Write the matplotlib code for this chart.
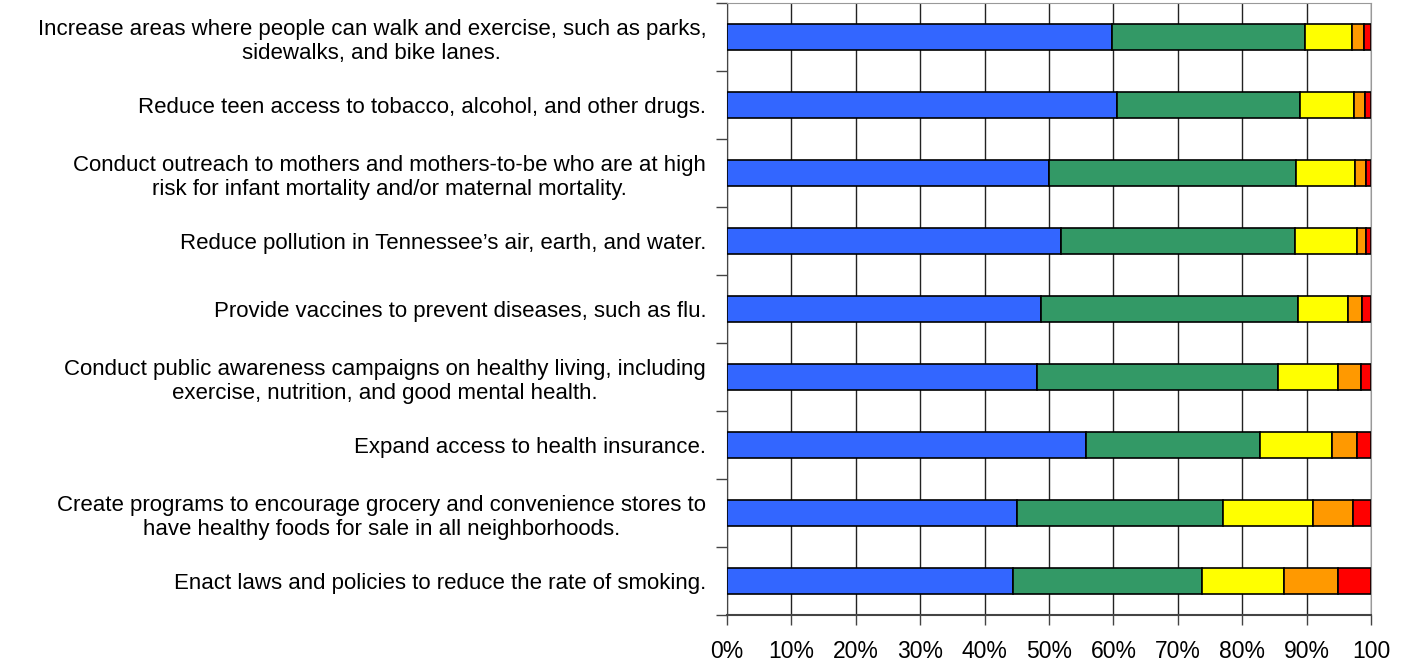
import numpy as np
import matplotlib
matplotlib.use("Agg")
import matplotlib.pyplot as plt
from matplotlib.ticker import FixedLocator

plt.rcParams['font.family'] = ['Liberation Sans', 'DejaVu Sans']

categories = [
    "Increase areas where people can walk and exercise, such as parks,\nsidewalks, and bike lanes.",
    "Reduce teen access to tobacco, alcohol, and other drugs.",
    "Conduct outreach to mothers and mothers-to-be who are at high\nrisk for infant mortality and/or maternal mortality.",
    "Reduce pollution in Tennessee\u2019s air, earth, and water.",
    "Provide vaccines to prevent diseases, such as flu.",
    "Conduct public awareness campaigns on healthy living, including\nexercise, nutrition, and good mental health.",
    "Expand access to health insurance.",
    "Create programs to encourage grocery and convenience stores to\nhave healthy foods for sale in all neighborhoods.",
    "Enact laws and policies to reduce the rate of smoking.",
]

# percentage shares per response level
seg_blue   = [59.8, 60.5, 50.0, 51.9, 48.8, 48.1, 55.8, 45.1, 44.4]
seg_green  = [30.0, 28.4, 38.4, 36.3, 39.8, 37.5, 27.0, 31.9, 29.3]
seg_yellow = [7.2, 8.4, 9.1, 9.7, 7.9, 9.3, 11.1, 14.0, 12.8]
seg_orange = [1.9, 1.8, 1.8, 1.4, 2.1, 3.5, 4.0, 6.2, 8.4]
seg_red    = [1.1, 0.9, 0.7, 0.7, 1.4, 1.6, 2.1, 2.8, 5.1]

x_ticks = [0, 10, 20, 30, 40, 50, 60, 70, 80, 90, 100]
x_labels = ["0%", "10%", "20%", "30%", "40%", "50%", "60%", "70%", "80%", "90%", "100"]

series = [seg_blue, seg_green, seg_yellow, seg_orange, seg_red]
colors = ["#3366FF", "#339966", "#FFFF00", "#FF9900", "#FF0000"]

fig = plt.figure(figsize=(14.08, 6.67), dpi=100)
ax = fig.add_axes([727 / 1408, 1 - 615 / 667, 644 / 1408, 612 / 667])

y = np.arange(len(categories))
left = np.zeros(len(categories))
for vals, col in zip(series, colors):
    ax.barh(y, vals, left=left, height=0.39, color=col, edgecolor="black",
            linewidth=1.2, zorder=3)
    left += np.array(vals)

ax.set_xlim(0, 100)
ax.set_ylim(len(categories) - 0.5, -0.5)

ax.set_xticks(x_ticks)
ax.set_xticklabels(x_labels, fontsize=16.5)
ax.tick_params(axis="x", length=7, width=1, color="#444444", pad=11)

ax.set_yticks(y)
ax.set_yticklabels(categories, fontsize=16)
ax.yaxis.set_minor_locator(FixedLocator(np.arange(len(categories) + 1) - 0.5))
ax.tick_params(axis="y", which="major", length=0, pad=15)
ax.tick_params(axis="y", which="minor", length=8, width=1, color="#444444")
for lbl in ax.get_yticklabels():
    lbl.set_multialignment("center")
    lbl.set_linespacing(1.22)

ax.grid(axis="x", color="#222222", linewidth=1, zorder=0)
ax.set_axisbelow(True)

ax.spines["left"].set_color("#444444")
ax.spines["bottom"].set_color("#444444")
ax.spines["bottom"].set_linewidth(1.5)
ax.spines["top"].set_color("#999999")
ax.spines["right"].set_color("#999999")

fig.savefig("out.png", dpi=100)
